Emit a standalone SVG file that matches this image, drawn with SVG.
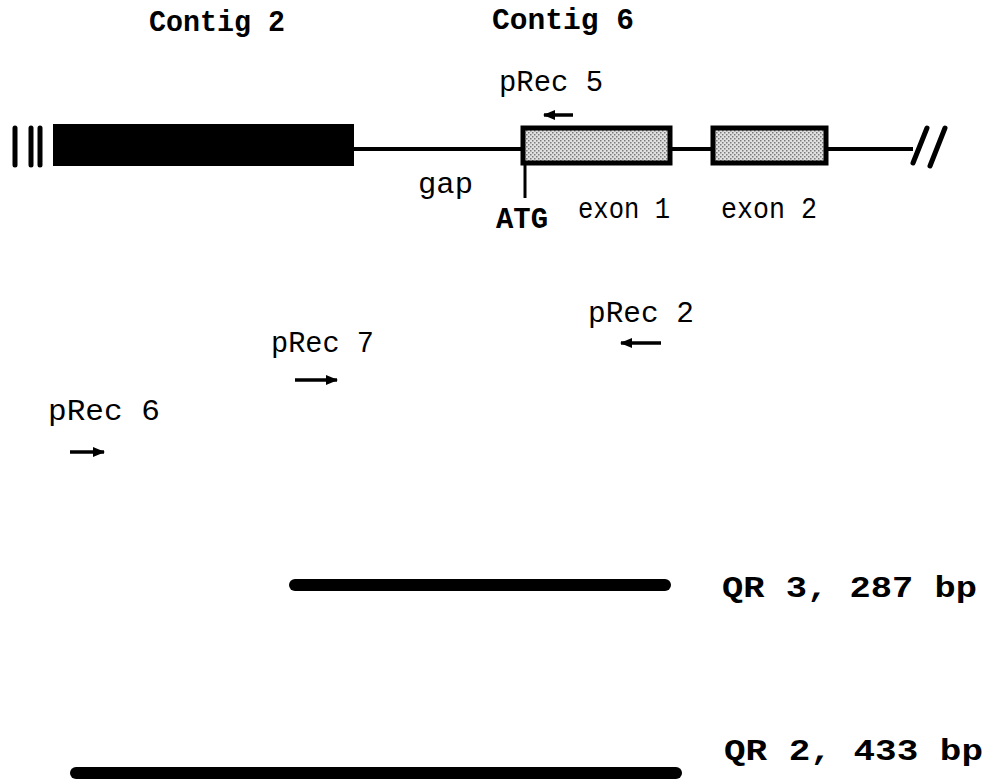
<svg xmlns="http://www.w3.org/2000/svg" width="986" height="780" viewBox="0 0 986 780">
<defs>
<style>
.t{font-family:"Liberation Mono","Courier New",monospace;font-size:29px;fill:#000}
.b{font-weight:bold}
.ln{stroke:#000;stroke-width:4;fill:none}
.exon{fill:url(#dots);stroke:#000;stroke-width:5}
.bar{stroke:#000;stroke-width:12;stroke-linecap:round}
.arr{stroke:#000;stroke-width:3.5}
</style>
<pattern id="dots" width="4" height="4" patternUnits="userSpaceOnUse">
<rect width="4" height="4" fill="#e0e0e0"/>
<rect x="0" y="0" width="1.5" height="1.5" fill="#7a7a7a"/>
<rect x="2" y="2" width="1.5" height="1.5" fill="#7a7a7a"/>
</pattern>
<marker id="ah" markerWidth="12" markerHeight="10" refX="11" refY="5" orient="auto" markerUnits="userSpaceOnUse">
<path d="M0,0 L12,5 L0,10 Z" fill="#000"/>
</marker>
</defs>
<rect width="986" height="780" fill="#fff"/>
<g id="labels">
<text class="t b" x="149" y="31" textLength="136" lengthAdjust="spacingAndGlyphs">Contig 2</text>
<text class="t b" x="492" y="29" textLength="142" lengthAdjust="spacingAndGlyphs">Contig 6</text>
</g>
<g id="connectors">
<line class="ln" x1="354" y1="149" x2="913" y2="149"/>
<line x1="525" y1="164" x2="525" y2="198" stroke="#000" stroke-width="3"/>
<line x1="913" y1="163" x2="927" y2="128" stroke="#000" stroke-width="5" stroke-linecap="round"/>
<line x1="930" y1="166" x2="945" y2="128" stroke="#000" stroke-width="5" stroke-linecap="round"/>
</g>
<g id="contig2">
<rect x="53" y="124" width="301" height="42" fill="#000"/>
<line x1="15" y1="128" x2="15" y2="165" stroke="#000" stroke-width="5" stroke-linecap="round"/>
<line x1="31" y1="128" x2="31" y2="165" stroke="#000" stroke-width="5" stroke-linecap="round"/>
<line x1="40" y1="128" x2="40" y2="165" stroke="#000" stroke-width="5" stroke-linecap="round"/>
</g>
<g id="exon1">
<rect class="exon" x="523" y="128" width="147" height="35"/>
<text class="t" x="578" y="218" textLength="92" lengthAdjust="spacingAndGlyphs">exon 1</text>
</g>
<g id="exon2">
<rect class="exon" x="713" y="128" width="113" height="35"/>
<text class="t" x="721" y="218" textLength="96" lengthAdjust="spacingAndGlyphs">exon 2</text>
</g>
<g id="gap">
<text class="t" x="418" y="193" textLength="55" lengthAdjust="spacingAndGlyphs">gap</text>
</g>
<g id="atg">
<text class="t b" x="496" y="228" textLength="52" lengthAdjust="spacingAndGlyphs">ATG</text>
</g>
<g id="prec5">
<text class="t" x="499" y="91" textLength="104" lengthAdjust="spacingAndGlyphs">pRec 5</text>
<line class="arr" x1="573" y1="115" x2="544" y2="115" marker-end="url(#ah)"/>
</g>
<g id="prec2">
<text class="t" x="588" y="322" textLength="106" lengthAdjust="spacingAndGlyphs">pRec 2</text>
<line class="arr" x1="661" y1="343" x2="621" y2="343" marker-end="url(#ah)"/>
</g>
<g id="prec7">
<text class="t" x="271" y="352" textLength="103" lengthAdjust="spacingAndGlyphs">pRec 7</text>
<line class="arr" x1="295" y1="380" x2="337" y2="380" marker-end="url(#ah)"/>
</g>
<g id="prec6">
<text class="t" x="48" y="420" textLength="112" lengthAdjust="spacingAndGlyphs">pRec 6</text>
<line class="arr" x1="70" y1="452" x2="104" y2="452" marker-end="url(#ah)"/>
</g>
<g id="qr3">
<line class="bar" x1="295" y1="585" x2="665" y2="585"/>
<text class="t b" x="722" y="597" textLength="255" lengthAdjust="spacingAndGlyphs">QR 3, 287 bp</text>
</g>
<g id="qr2">
<line class="bar" x1="76" y1="773" x2="676" y2="773"/>
<text class="t b" x="724" y="760" textLength="259" lengthAdjust="spacingAndGlyphs">QR 2, 433 bp</text>
</g>
</svg>
